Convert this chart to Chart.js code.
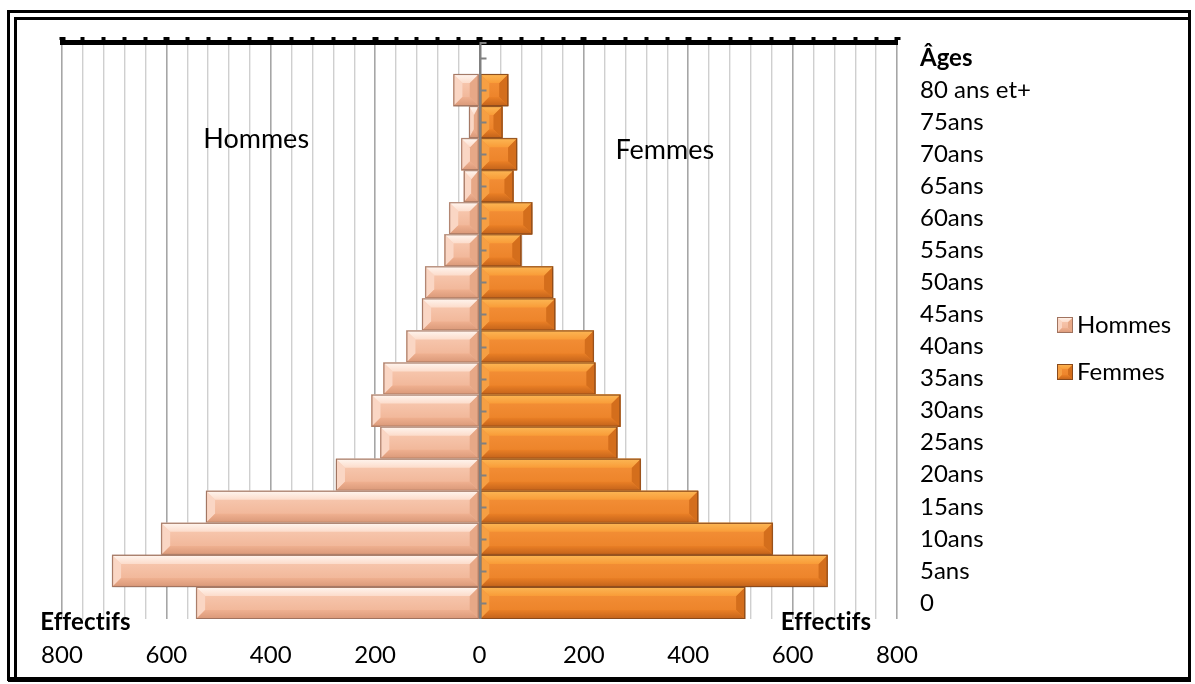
<!DOCTYPE html>
<html lang="fr">
<head>
<meta charset="utf-8">
<title>Pyramide des âges</title>
<script src="https://cdn.jsdelivr.net/npm/chart.js@4/dist/chart.umd.min.js"></script>
<style>
  html, body { margin: 0; padding: 0; background: #ffffff; }
  #wrap { width: 1195px; height: 684px; position: relative; }
</style>
</head>
<body>
<div id="wrap"><canvas id="pyramide" width="1195" height="684"></canvas></div>
<script>
// Age groups, top row first ("Âges" is the heading row of the axis, no bars)
const ageLabels = ['Âges', '80 ans et+', '75ans', '70ans', '65ans', '60ans', '55ans', '50ans',
  '45ans', '40ans', '35ans', '30ans', '25ans', '20ans', '15ans', '10ans', '5ans', '0'];

// Headcounts per age group
const hommes = [null, 50, 20, 35, 30, 58, 67, 104, 110, 140, 184, 207, 190, 275, 524, 610, 704, 543];
const femmes = [null, 55, 44, 72, 65, 101, 80, 141, 145, 219, 222, 270, 264, 309, 419, 562, 667, 509];

// Value axis: range, labelled step and grid step
const axisMax = 800;
const labelStep = 200;
const gridStep = 40;

const seriesNames = ['Hommes', 'Femmes'];

const FONT = 'Lato, "Open Sans", sans-serif';

// Bevel colours for each series
const palettes = [
  { base: '#f3b99d', top: '#fff6f0', topEnd: '#fcdccb', mid0: '#f9cdb6', mid1: '#efb090',
    bottom: '#d99878', left: '#fad6c4', right: '#e7a887', border: '#a0735f' },
  { base: '#f08a2e', top: '#fcb755', topEnd: '#f99c38', mid0: '#f5923a', mid1: '#ea7f25',
    bottom: '#c2621a', left: '#f69f43', right: '#d46e1c', border: '#8a4a1b' }
];

function bevelRect(ctx, x0, y0, x1, y1, pal, b) {
  const w = x1 - x0, h = y1 - y0;
  if (w <= 0 || h <= 0) return;
  const bx = Math.min(b, w / 2), by = Math.min(b, h / 2);
  // centre face
  let g = ctx.createLinearGradient(0, y0, 0, y1);
  g.addColorStop(0, pal.mid0);
  g.addColorStop(1, pal.mid1);
  ctx.fillStyle = g;
  ctx.fillRect(x0, y0, w, h);
  const poly = (pts, fill) => {
    ctx.beginPath();
    ctx.moveTo(pts[0][0], pts[0][1]);
    for (let k = 1; k < pts.length; k++) ctx.lineTo(pts[k][0], pts[k][1]);
    ctx.closePath();
    ctx.fillStyle = fill;
    ctx.fill();
  };
  // left and right facets
  poly([[x0, y0], [x0 + bx, y0 + by], [x0 + bx, y1 - by], [x0, y1]], pal.left);
  poly([[x1, y0], [x1 - bx, y0 + by], [x1 - bx, y1 - by], [x1, y1]], pal.right);
  // top facet
  g = ctx.createLinearGradient(0, y0, 0, y0 + by);
  g.addColorStop(0, pal.top);
  g.addColorStop(1, pal.topEnd);
  poly([[x0, y0], [x1, y0], [x1 - bx, y0 + by], [x0 + bx, y0 + by]], g);
  // bottom facet
  g = ctx.createLinearGradient(0, y1 - by, 0, y1);
  g.addColorStop(0, pal.mid1);
  g.addColorStop(1, pal.bottom);
  poly([[x0, y1], [x1, y1], [x1 - bx, y1 - by], [x0 + bx, y1 - by]], g);
  // outline
  ctx.strokeStyle = pal.border;
  ctx.lineWidth = 1;
  ctx.strokeRect(x0 + 0.5, y0 + 0.5, w - 1, h - 1);
}

const pyramidDecor = {
  id: 'pyramidDecor',
  beforeDraw(chart) {
    const ctx = chart.ctx;
    ctx.save();
    ctx.fillStyle = '#ffffff';
    ctx.fillRect(0, 0, chart.width, chart.height);
    // double frame: two lines on top and left, one heavy line on right and bottom
    ctx.strokeStyle = '#000000';
    ctx.lineWidth = 3;
    ctx.strokeRect(8.5, 11.5, 1181, 668);
    ctx.beginPath();
    ctx.moveTo(15.5, 679);
    ctx.lineTo(15.5, 18.5);
    ctx.lineTo(1189, 18.5);
    ctx.stroke();
    ctx.lineWidth = 5;
    ctx.beginPath();
    ctx.moveTo(8, 679.5);
    ctx.lineTo(1191, 679.5);
    ctx.stroke();
    ctx.restore();
  },
  beforeDatasetsDraw(chart) {
    const ctx = chart.ctx;
    ctx.save();
    ctx.shadowColor = 'rgba(0,0,0,0.35)';
    ctx.shadowBlur = 5;
    ctx.shadowOffsetX = 1;
    ctx.shadowOffsetY = 2;
  },
  afterDatasetsDraw(chart) {
    const ctx = chart.ctx;
    ctx.restore();
    ctx.save();
    chart.data.datasets.forEach((ds, di) => {
      const meta = chart.getDatasetMeta(di);
      meta.data.forEach((el, i) => {
        if (ds.data[i] == null) return;
        const p = el.getProps(['x', 'y', 'base', 'height'], true);
        const x0 = Math.min(p.x, p.base), x1 = Math.max(p.x, p.base);
        bevelRect(ctx, x0, p.y - p.height / 2, x1, p.y + p.height / 2, palettes[di], 9);
      });
    });
    // category axis on the zero line, with its tick marks
    const xs = chart.scales.x, ys = chart.scales.y, area = chart.chartArea;
    const zx = Math.round(xs.getPixelForValue(0)) + 0.5;
    ctx.strokeStyle = '#808080';
    ctx.lineWidth = 2;
    ctx.beginPath();
    ctx.moveTo(zx, area.top);
    ctx.lineTo(zx, area.bottom);
    ctx.stroke();
    ctx.beginPath();
    ctx.moveTo(zx, area.top + 1);
    ctx.lineTo(zx + 6, area.top + 1);
    for (let i = 0; i < ageLabels.length; i++) {
      const ty = Math.round(ys.getPixelForValue(i)) + 0.5;
      ctx.moveTo(zx, ty);
      ctx.lineTo(zx + 6, ty);
    }
    ctx.stroke();
    ctx.restore();
  },
  afterDraw(chart) {
    const ctx = chart.ctx;
    const xs = chart.scales.x, ys = chart.scales.y, area = chart.chartArea;
    ctx.save();
    ctx.fillStyle = '#000000';
    ctx.textBaseline = 'middle';
    ctx.textAlign = 'center';
    // series names inside the plot
    ctx.font = '27px ' + FONT;
    const yH = (ys.getPixelForValue(ageLabels.indexOf('75ans')) + ys.getPixelForValue(ageLabels.indexOf('70ans'))) / 2;
    ctx.fillText(seriesNames[0], xs.getPixelForValue(-428), yH + 1);
    ctx.fillText(seriesNames[1], xs.getPixelForValue(355), ys.getPixelForValue(ageLabels.indexOf('70ans')) - 4);
    // value-axis titles (plain letters, no "ti" ligature)
    ctx.font = 'bold 24px ' + FONT;
    if ('letterSpacing' in ctx) ctx.letterSpacing = '0.2px';
    if ('textRendering' in ctx) ctx.textRendering = 'optimizeSpeed';
    ctx.fillText('Effectifs', xs.getPixelForValue(-755), area.bottom + 3);
    ctx.fillText('Effectifs', xs.getPixelForValue(664), area.bottom + 3);
    if ('letterSpacing' in ctx) ctx.letterSpacing = '0px';
    // legend
    ctx.textAlign = 'left';
    ctx.font = '24px ' + FONT;
    const legendY = [325, 372];
    seriesNames.forEach((name, k) => {
      bevelRect(ctx, 1057, legendY[k] - 8, 1073, legendY[k] + 8, palettes[k], 5);
      ctx.fillStyle = '#000000';
      ctx.fillText(name, 1077, legendY[k]);
    });
    ctx.restore();
  }
};

new Chart(document.getElementById('pyramide'), {
  type: 'bar',
  data: {
    labels: ageLabels,
    datasets: [
      {
        label: seriesNames[0],
        data: hommes.map(v => (v == null ? null : -v)),
        backgroundColor: palettes[0].base,
        borderColor: palettes[0].border,
        borderWidth: 1,
        borderSkipped: false,
        barPercentage: 1,
        categoryPercentage: 1
      },
      {
        label: seriesNames[1],
        data: femmes,
        backgroundColor: palettes[1].base,
        borderColor: palettes[1].border,
        borderWidth: 1,
        borderSkipped: false,
        barPercentage: 1,
        categoryPercentage: 1
      }
    ]
  },
  options: {
    indexAxis: 'y',
    responsive: false,
    animation: false,
    devicePixelRatio: 1,
    layout: { padding: { left: 62, top: 38, right: 148, bottom: 15 } },
    plugins: {
      legend: { display: false },
      tooltip: { enabled: false }
    },
    scales: {
      x: {
        type: 'linear',
        position: 'bottom',
        stacked: true,
        min: -axisMax,
        max: axisMax,
        afterFit: s => { s.height = 50; },
        grid: {
          drawTicks: false,
          color: c => (c.tick.value === 0 ? '#808080' : (c.tick.value % labelStep === 0 ? '#a6a6a6' : '#cfcfcf')),
          lineWidth: c => (c.tick.value % labelStep === 0 ? 1.6 : 1.4)
        },
        border: { display: false },
        ticks: {
          stepSize: gridStep,
          autoSkip: false,
          maxRotation: 0,
          padding: 22,
          color: '#000000',
          font: { family: FONT, size: 24 },
          callback: v => (v % labelStep === 0 ? String(Math.abs(v)) : '')
        }
      },
      x2: {
        type: 'linear',
        position: 'top',
        min: -axisMax,
        max: axisMax,
        afterFit: s => { s.height = 4; },
        grid: {
          drawOnChartArea: false,
          drawTicks: true,
          tickLength: 5,
          tickColor: '#000000',
          tickWidth: c => (c.tick.value % labelStep === 0 ? 6 : 4)
        },
        border: { display: true, color: '#000000', width: 5 },
        ticks: { display: false, stepSize: gridStep, autoSkip: false }
      },
      y: {
        type: 'category',
        position: 'right',
        stacked: true,
        afterFit: s => { s.width = 150; },
        grid: { display: false },
        border: { display: false },
        ticks: {
          padding: 15,
          autoSkip: false,
          color: '#000000',
          font: c => ({ family: FONT, size: 24, weight: c.index === 0 ? 'bold' : 'normal' })
        }
      }
    }
  },
  plugins: [pyramidDecor]
});
</script>
</body>
</html>
